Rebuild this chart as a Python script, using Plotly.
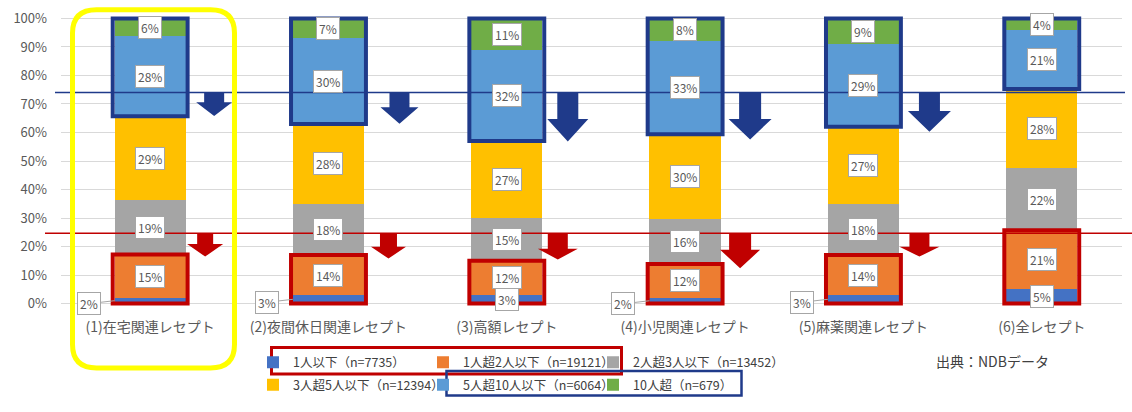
import plotly.graph_objects as go

# ---------------- data ----------------
categories = ["(1)在宅関連レセプト", "(2)夜間休日関連レセプト", "(3)高額レセプト",
              "(4)小児関連レセプト", "(5)麻薬関連レセプト", "(6)全レセプト"]
series_names = ["1人以下（n=7735）", "1人超2人以下（n=19121）", "2人超3人以下（n=13452）",
                "3人超5人以下（n=12394）", "5人超10人以下（n=6064）", "10人超（n=679）"]
s_le1 = [2, 3, 3, 2, 3, 5]
s_1to2 = [15, 14, 12, 12, 14, 21]
s_2to3 = [19, 18, 15, 16, 18, 22]
s_3to5 = [29, 28, 27, 30, 27, 28]
s_5to10 = [28, 30, 32, 33, 29, 21]
s_gt10 = [6, 7, 11, 8, 9, 4]
y_ticks = [0, 10, 20, 30, 40, 50, 60, 70, 80, 90, 100]
y_tick_labels = ["0%", "10%", "20%", "30%", "40%", "50%", "60%", "70%", "80%", "90%", "100%"]
source_text = "出典：NDBデータ"

# ---------------- styles ----------------
series = [s_le1, s_1to2, s_2to3, s_3to5, s_5to10, s_gt10]
colors = ["#4472C4", "#ED7D31", "#A5A5A5", "#FFC000", "#5B9BD5", "#70AD47"]
outside_first_label = [True, True, False, True, True, False]
BLUE = "#1F3A8A"
RED = "#C00000"
FONT = "Noto Sans CJK JP"
TXT = "#595959"

W, H = 1132, 412
L, R, T, B = 61, 10, 8, 105
PW, PH = W - L - R, H - T - B
XR = [-0.5, 5.45]
YR = [-1.2, 101.2]
UX = PW / (XR[1] - XR[0])
UY = PH / (YR[1] - YR[0])


def pxx(px):  # pixel -> paper x
    return (px - L) / PW


def pyy(py):  # pixel -> paper y
    return (H - B - py) / PH


def x2px(x):
    return L + (x - XR[0]) * UX


def px2x(px):
    return XR[0] + (px - L) / UX


def y2py(y):
    return H - B - (y - YR[0]) * UY


def py2y(py):
    return YR[0] + (H - B - py) / UY


BLUE_LEVEL = 74.0
RED_LEVEL = 24.7
# (offset from bar centre px, shaft half width, head half width, shaft length, total length)
BLUE_ARROWS = [(64, 10, 18, 10, 24), (71, 10, 19, 15, 32), (61, 10.5, 20.5, 27, 50),
               (65, 11, 21.5, 27, 48), (66, 10.5, 21.5, 19, 40)]
RED_ARROWS = [(55, 8, 18, 11, 24), (60, 8.5, 17.5, 14, 26), (51, 10, 20, 16, 27),
              (55, 11, 20, 17, 36), (56, 10, 20, 14, 24)]

xs = list(range(len(categories)))
BAR_W = 0.4

fig = go.Figure()
legend_x_px = [253, 423, 593, 253, 423, 593]
legend_y_px = [364, 364, 364, 387, 387, 387]
for k, (name, vals, col) in enumerate(zip(series_names, series, colors)):
    lg = "legend" if k == 0 else f"legend{k + 1}"
    fig.add_trace(go.Bar(x=xs, y=vals, name=name, marker=dict(color=col, line=dict(width=0)),
                         width=BAR_W, legend=lg, hoverinfo="name+y"))

# normalized cumulative values
totals = [sum(s[i] for s in series) for i in xs]
norm = [[s[i] * 100.0 / totals[i] for i in xs] for s in series]
cum_top = []
run = [0.0] * len(xs)
for k in range(len(series)):
    run = [run[i] + norm[k][i] for i in xs]
    cum_top.append(list(run))
cum_bot = [[0.0] * len(xs)] + cum_top[:-1]

annotations = []
for k in range(len(series)):
    for i in xs:
        mid = (cum_bot[k][i] + cum_top[k][i]) / 2
        txt = f"{series[k][i]}%"
        common = dict(text=txt, font=dict(family=FONT, size=12, color=TXT), bgcolor="white",
                      bordercolor="#A6A6A6", borderwidth=1, borderpad=2, xref="x", yref="y")
        if k == 0 and outside_first_label[i]:
            annotations.append(dict(x=i - BAR_W / 2, y=mid, showarrow=True, arrowhead=0,
                                    arrowwidth=1, arrowcolor="#A6A6A6", ax=-26, ay=3,
                                    standoff=0, **common))
        else:
            annotations.append(dict(x=i, y=mid, showarrow=False, **common))

annotations.append(dict(text=source_text, x=pxx(992), y=pyy(362), xref="paper", yref="paper",
                        xanchor="center", yanchor="middle", showarrow=False,
                        font=dict(family=FONT, size=14, color="#404040")))

shapes = []
# outline boxes
for i in xs:
    shapes.append(dict(type="rect", xref="x", yref="y", x0=i - 0.21, x1=i + 0.21,
                       y0=cum_bot[4][i], y1=cum_top[5][i], line=dict(color=BLUE, width=4),
                       layer="above"))
    shapes.append(dict(type="rect", xref="x", yref="y", x0=i - 0.21, x1=i + 0.21,
                       y0=cum_bot[0][i], y1=cum_top[1][i], line=dict(color=RED, width=4),
                       layer="above"))

# reference lines
shapes.append(dict(type="line", xref="paper", yref="y", x0=pxx(55), x1=pxx(1125),
                   y0=BLUE_LEVEL, y1=BLUE_LEVEL, line=dict(color=BLUE, width=1.5), layer="above"))
shapes.append(dict(type="line", xref="paper", yref="y", x0=pxx(45), x1=pxx(1132),
                   y0=RED_LEVEL, y1=RED_LEVEL, line=dict(color=RED, width=1.5), layer="above"))


def arrow_path(i, spec, level):
    off, shw, hhw, sl, tl = spec
    cx = x2px(i) + off
    top = y2py(level)
    pts = [(cx - shw, top), (cx + shw, top), (cx + shw, top + sl), (cx + hhw, top + sl),
           (cx, top + tl), (cx - hhw, top + sl), (cx - shw, top + sl)]
    d = "M " + " L ".join(f"{px2x(a):.4f},{py2y(b):.4f}" for a, b in pts) + " Z"
    return d


for i, spec in enumerate(BLUE_ARROWS):
    shapes.append(dict(type="path", xref="x", yref="y", path=arrow_path(i, spec, BLUE_LEVEL),
                       fillcolor=BLUE, line=dict(width=0), layer="above"))
for i, spec in enumerate(RED_ARROWS):
    shapes.append(dict(type="path", xref="x", yref="y", path=arrow_path(i, spec, RED_LEVEL),
                       fillcolor=RED, line=dict(width=0), layer="above"))

# yellow rounded highlight around first category
x0, x1, y0, y1, rr = 72.5, 234.5, 2.5, 369.5, 24
pts_cmd = [("M", [(x0 + rr, y0)]), ("L", [(x1 - rr, y0)]), ("Q", [(x1, y0), (x1, y0 + rr)]),
           ("L", [(x1, y1 - rr)]), ("Q", [(x1, y1), (x1 - rr, y1)]), ("L", [(x0 + rr, y1)]),
           ("Q", [(x0, y1), (x0, y1 - rr)]), ("L", [(x0, y0 + rr)]), ("Q", [(x0, y0), (x0 + rr, y0)])]
ypath = " ".join(c + " " + " ".join(f"{pxx(a):.5f},{pyy(b):.5f}" for a, b in p) for c, p in pts_cmd) + " Z"
shapes.append(dict(type="path", xref="paper", yref="paper", path=ypath,
                   line=dict(color="#FFFF00", width=5), layer="above"))

# legend highlight boxes
shapes.append(dict(type="rect", xref="paper", yref="paper", x0=pxx(271.5), x1=pxx(621.5),
                   y0=pyy(348.5), y1=pyy(375.5), line=dict(color=RED, width=3)))
shapes.append(dict(type="rect", xref="paper", yref="paper", x0=pxx(446.5), x1=pxx(741.5),
                   y0=pyy(372.5), y1=pyy(397.5), line=dict(color=BLUE, width=2.5)))

layout = dict(
    width=W, height=H, margin=dict(l=L, r=R, t=T, b=B),
    paper_bgcolor="white", plot_bgcolor="white",
    barmode="stack", barnorm="percent",
    xaxis=dict(range=XR, tickmode="array", tickvals=xs, ticktext=categories, showgrid=False,
               zeroline=False, showline=False, ticks="", ticklabelstandoff=10,
               tickfont=dict(family=FONT, size=14, color=TXT)),
    yaxis=dict(range=YR, tickmode="array", tickvals=y_ticks, ticktext=y_tick_labels, showgrid=True,
               gridcolor="#D9D9D9", gridwidth=1, zeroline=False, showline=False, ticks="",
               ticklabelstandoff=13, tickfont=dict(family=FONT, size=13, color=TXT)),
    annotations=annotations, shapes=shapes, showlegend=True,
)
for k in range(len(series)):
    key = "legend" if k == 0 else f"legend{k + 1}"
    layout[key] = dict(x=pxx(legend_x_px[k]), y=pyy(legend_y_px[k]), xanchor="left",
                       yanchor="middle", orientation="h", bgcolor="rgba(0,0,0,0)",
                       font=dict(family=FONT, size=12.5, color="#404040"),
                       itemclick=False, itemdoubleclick=False)
fig.update_layout(**layout)
fig.write_html("out.html")
